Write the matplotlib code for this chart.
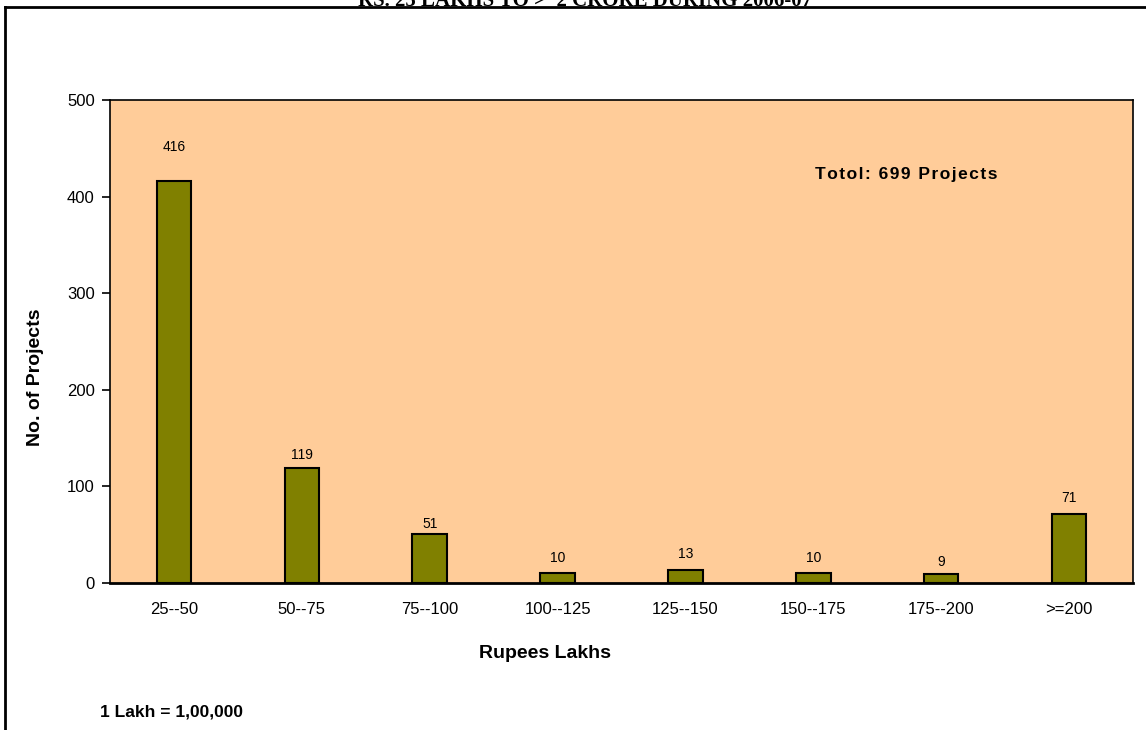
import matplotlib.pyplot as plt
import numpy as np
from matplotlib.lines import Line2D

# Project cost ranges (Rupees Lakhs) and number of projects
ranges = ['25--50', '50--75', '75--100', '100--125', '125--150', '150--175', '175--200', '>=200']
projects = [416, 119, 51, 10, 13, 10, 9, 71]
y_ticks = [0, 100, 200, 300, 400, 500]

# gap between bar top and its label (pixels), as placed in the original sheet
label_gap = [30, 9, 6, 11, 12, 11, 8, 12]

plt.rcParams['font.family'] = ['Liberation Sans', 'DejaVu Sans']

fig = plt.figure(figsize=(11.46, 7.3), dpi=100)
W, H = 1146, 730
ax = fig.add_axes([110 / W, (H - 583) / H, (1133 - 110) / W, (583 - 100) / H])
ax.set_facecolor('#FFCC99')

x = np.arange(len(ranges))
bars = ax.bar(x, projects, width=0.27, color='#808000', edgecolor='black', linewidth=1.5, zorder=3)

for b, v, g in zip(bars, projects, label_gap):
    ax.annotate(str(v), (b.get_x() + b.get_width() / 2, v), xytext=(0, g),
                textcoords='offset pixels', ha='center', va='baseline', fontsize=10)

ax.set_xlim(-0.5, len(ranges) - 0.5)
ax.set_ylim(0, 500)
ax.set_yticks(y_ticks)
ax.set_xticks(x)
ax.set_xticklabels(ranges, fontsize=12)
ax.tick_params(axis='y', labelsize=12, length=6, width=1.2, pad=5)
ax.tick_params(axis='x', length=0, pad=14)
for s in ax.spines.values():
    s.set_linewidth(1.2)
ax.spines['bottom'].set_linewidth(2)

# letter-spaced note, like the original text box
note = '\u200a'.join('Totol: 699 Projects')
ax.text(0.778, 0.845, note, transform=ax.transAxes, ha='center', va='center',
        fontsize=12.5, fontweight='bold')

fig.text(545 / W, 1 - 653 / H, 'Rupees Lakhs', ha='center', va='center', fontsize=14, fontweight='bold')
fig.text(36 / W, 1 - 377 / H, 'No. of Projects', ha='center', va='center', rotation=90,
         fontsize=14, fontweight='bold')
fig.text(100 / W, 1 - 712 / H, '1 Lakh = 1,00,000', ha='left', va='center', fontsize=12.5, fontweight='bold')

# title cut off at the top of the frame
fig.text(585 / W, 1 - 6 / H, 'RS. 25 LAKHS TO >  2 CRORE DURING 2006-07', ha='center', va='baseline',
         fontsize=15, fontweight='bold', family=['Liberation Serif', 'DejaVu Serif'])

# outer border of the chart
fig.add_artist(Line2D([5 / W, 1], [1 - 7 / H, 1 - 7 / H], color='black', linewidth=2))
fig.add_artist(Line2D([5 / W, 5 / W], [0, 1 - 7 / H], color='black', linewidth=2))

fig.savefig('out.png', dpi=100)
